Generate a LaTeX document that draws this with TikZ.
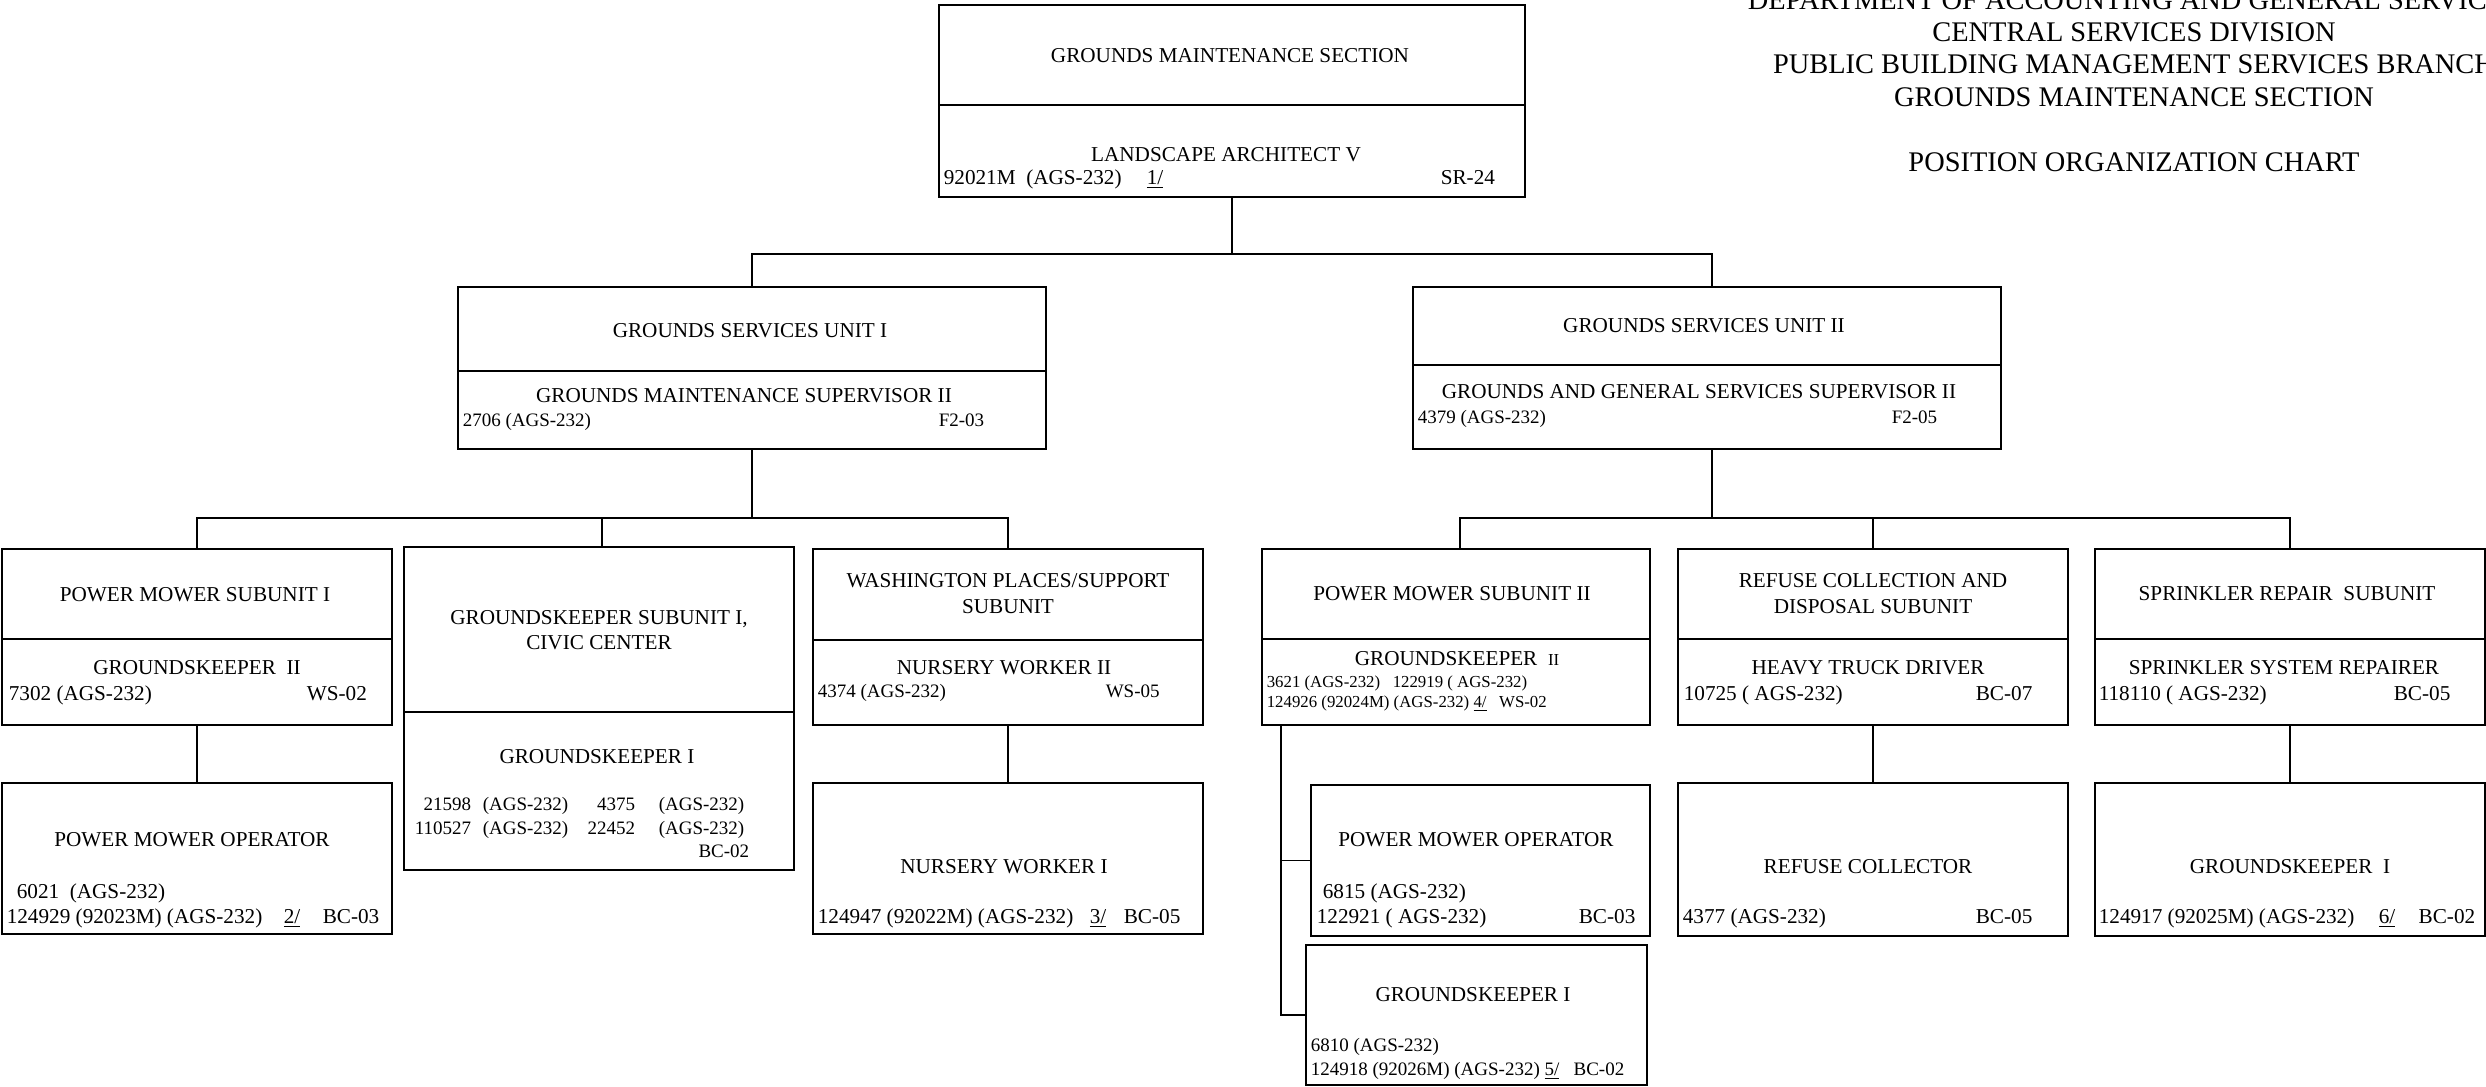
\documentclass[tikz,border=0pt]{standalone}
\usepackage{fontspec}
\setmainfont{Liberation Serif}
\usetikzlibrary{fit}
\newcommand{\szmain}{\fontsize{10.6}{12}\selectfont}
\newcommand{\szmed}{\fontsize{9.5}{11}\selectfont}
\newcommand{\szsm}{\fontsize{8.4}{10}\selectfont}
\newcommand{\sztitle}{\fontsize{14.2}{16}\selectfont}
\begin{document}
\begin{tikzpicture}[x=0.5pt, y=-0.5pt, line width=0.8pt,
  orgbox/.style={draw, inner sep=0pt, line width=0.8pt},
  txt/.style={inner sep=0pt, font=\szmain, text height=7pt, text depth=0pt},
  txtm/.style={inner sep=0pt, font=\szmed, text height=6.3pt, text depth=0pt},
  txts/.style={inner sep=0pt, font=\szsm, text height=5.6pt, text depth=0pt},
  ttl/.style={inner sep=0pt, font=\sztitle, text height=9.4pt, text depth=0pt}]
\useasboundingbox (0,0) rectangle (2486,1087);

% title block
\node[ttl] (h1) at (2134,0) {DEPARTMENT OF ACCOUNTING AND GENERAL SERVICES};
\node[ttl] (h2) at (2134,32) {CENTRAL SERVICES DIVISION};
\node[ttl] (h3) at (2134,64) {PUBLIC BUILDING MANAGEMENT SERVICES BRANCH};
\node[ttl] (h4) at (2134,97) {GROUNDS MAINTENANCE SECTION};
\node[ttl] (h5) at (2134,162) {POSITION ORGANIZATION CHART};

% top box
\node[orgbox, fit={(939,5) (1525,197)}] (T) {};
\draw (T.west |- 0,105) -- (T.east |- 0,105);
\node[txt] (t1) at (1230,55) {GROUNDS MAINTENANCE SECTION};
\node[txt] (t2) at (1226,154) {LANDSCAPE ARCHITECT V};
\node[txt, anchor=west] (t3) at (943,177) {92021M\ \ (AGS-232)};
\node[txt, anchor=west] (t4) at (1146,177) {\underline{1/}};
\node[txt, anchor=west] (t5) at (1440,177) {SR-24};

% unit I
\node[orgbox, fit={(458,287) (1046,449)}] (U1) {};
\draw (U1.west |- 0,371) -- (U1.east |- 0,371);
\node[txt] (u11) at (750,330) {GROUNDS SERVICES UNIT I};
\node[txt] (u12) at (744,395) {GROUNDS MAINTENANCE SUPERVISOR II};
\node[txtm, anchor=west] (u13) at (462,420) {2706 (AGS-232)};
\node[txtm, anchor=west] (u14) at (938,420) {F2-03};

% unit II
\node[orgbox, fit={(1413,287) (2001,449)}] (U2) {};
\draw (U2.west |- 0,365) -- (U2.east |- 0,365);
\node[txt] (u21) at (1704,325) {GROUNDS SERVICES UNIT II};
\node[txt] (u22) at (1699,391) {GROUNDS AND GENERAL SERVICES SUPERVISOR II};
\node[txtm, anchor=west] (u23) at (1417,417) {4379 (AGS-232)};
\node[txtm, anchor=west] (u24) at (1891,417) {F2-05};

% A power mower subunit I
\node[orgbox, fit={(2,549) (392,725)}] (A) {};
\draw (A.west |- 0,639) -- (A.east |- 0,639);
\node[txt] (a1) at (195,594) {POWER MOWER SUBUNIT I};
\node[txt] (a2) at (197,667) {GROUNDSKEEPER\ \ II};
\node[txt, anchor=west] (a3) at (8,693) {7302 (AGS-232)};
\node[txt, anchor=west] (a4) at (306,693) {WS-02};

% B groundskeeper subunit I
\node[orgbox, fit={(404,547) (794,870)}] (B) {};
\draw (B.west |- 0,712) -- (B.east |- 0,712);
\node[txt] (b1) at (599,617) {GROUNDSKEEPER SUBUNIT I,};
\node[txt] (b2) at (599,642) {CIVIC CENTER};
\node[txt] (b3) at (597,756) {GROUNDSKEEPER I};
\node[txtm, anchor=east] (b4) at (472,804) {21598};
\node[txtm, anchor=west] (b5) at (482,804) {(AGS-232)};
\node[txtm, anchor=east] (b6) at (636,804) {4375};
\node[txtm, anchor=west] (b7) at (658,804) {(AGS-232)};
\node[txtm, anchor=east] (b8) at (472,828) {110527};
\node[txtm, anchor=west] (b9) at (482,828) {(AGS-232)};
\node[txtm, anchor=east] (b10) at (636,828) {22452};
\node[txtm, anchor=west] (b11) at (658,828) {(AGS-232)};
\node[txtm, anchor=east] (b12) at (750,851) {BC-02};

% C washington places
\node[orgbox, fit={(813,549) (1203,725)}] (C) {};
\draw (C.west |- 0,640) -- (C.east |- 0,640);
\node[txt] (c1) at (1008,580) {WASHINGTON PLACES/SUPPORT};
\node[txt] (c2) at (1008,606) {SUBUNIT};
\node[txt] (c3) at (1004,667) {NURSERY WORKER II};
\node[txtm, anchor=west] (c4) at (817,691) {4374 (AGS-232)};
\node[txtm, anchor=west] (c5) at (1105,691) {WS-05};

% D power mower operator
\node[orgbox, fit={(2,783) (392,934)}] (D) {};
\node[txt] (d1) at (192,839) {POWER MOWER OPERATOR};
\node[txt, anchor=west] (d2) at (16,891) {6021\ \ (AGS-232)};
\node[txt, anchor=west] (d3) at (6,916) {124929 (92023M) (AGS-232)};
\node[txt, anchor=west] (d4) at (283,916) {\underline{2/}};
\node[txt, anchor=west] (d5) at (322,916) {BC-03};

% E nursery worker I
\node[orgbox, fit={(813,783) (1203,934)}] (E) {};
\node[txt] (e1) at (1004,866) {NURSERY WORKER I};
\node[txt, anchor=west] (e2) at (817,916) {124947 (92022M) (AGS-232)};
\node[txt, anchor=west] (e3) at (1089,916) {\underline{3/}};
\node[txt, anchor=west] (e4) at (1123,916) {BC-05};

% F power mower subunit II
\node[orgbox, fit={(1262,549) (1650,725)}] (F) {};
\draw (F.west |- 0,639) -- (F.east |- 0,639);
\node[txt] (f1t) at (1452,593) {POWER MOWER SUBUNIT II};
\node[txt] (f2t) at (1457,658) {GROUNDSKEEPER\ \ {\szsm II}};
\node[txts, anchor=west] (f3t) at (1266,682) {3621 (AGS-232)\ \ \ 122919 ( AGS-232)};
\node[txts, anchor=west] (f4t) at (1266,702) {124926 (92024M) (AGS-232) \underline{4/}\ \ \ WS-02};

% G refuse collection
\node[orgbox, fit={(1678,549) (2068,725)}] (G) {};
\draw (G.west |- 0,639) -- (G.east |- 0,639);
\node[txt] (g1) at (1873,580) {REFUSE COLLECTION AND};
\node[txt] (g2) at (1873,606) {DISPOSAL SUBUNIT};
\node[txt] (g3) at (1868,667) {HEAVY TRUCK DRIVER};
\node[txt, anchor=west] (g4) at (1683,693) {10725 ( AGS-232)};
\node[txt, anchor=west] (g5) at (1975,693) {BC-07};

% H sprinkler repair
\node[orgbox, fit={(2095,549) (2485,725)}] (H) {};
\draw (H.west |- 0,639) -- (H.east |- 0,639);
\node[txt] (hh1) at (2287,593) {SPRINKLER REPAIR\ \ SUBUNIT};
\node[txt] (hh2) at (2284,667) {SPRINKLER SYSTEM REPAIRER};
\node[txt, anchor=west] (hh3) at (2098,693) {118110 ( AGS-232)};
\node[txt, anchor=west] (hh4) at (2393,693) {BC-05};

% I power mower operator
\node[orgbox, fit={(1311,785) (1650,936)}] (I) {};
\node[txt] (i1) at (1476,839) {POWER MOWER OPERATOR};
\node[txt, anchor=west] (i2) at (1322,891) {6815 (AGS-232)};
\node[txt, anchor=west] (i3) at (1316,916) {122921 ( AGS-232)};
\node[txt, anchor=west] (i4) at (1578,916) {BC-03};

% J groundskeeper I
\node[orgbox, fit={(1306,945) (1647,1085)}] (J) {};
\node[txt] (j1t) at (1473,994) {GROUNDSKEEPER I};
\node[txtm, anchor=west] (j2t) at (1310,1045) {6810 (AGS-232)};
\node[txtm, anchor=west] (j3t) at (1310,1069) {124918 (92026M) (AGS-232) \underline{5/}\ \ \ BC-02};

% K refuse collector
\node[orgbox, fit={(1678,783) (2068,936)}] (K) {};
\node[txt] (k1) at (1868,866) {REFUSE COLLECTOR};
\node[txt, anchor=west] (k2) at (1682,916) {4377 (AGS-232)};
\node[txt, anchor=west] (k3) at (1975,916) {BC-05};

% L groundskeeper I
\node[orgbox, fit={(2095,783) (2485,936)}] (L) {};
\node[txt] (l1) at (2290,866) {GROUNDSKEEPER\ \ I};
\node[txt, anchor=west] (l2) at (2098,916) {124917 (92025M) (AGS-232)};
\node[txt, anchor=west] (l3) at (2378,916) {\underline{6/}};
\node[txt, anchor=east] (l4) at (2476,916) {BC-02};

% connector attachment points on box borders
\coordinate (u2n) at (1712,287);
\coordinate (u2s) at (1712,449);
\coordinate (bn) at (602,547);
\coordinate (fn) at (1460,549);
\coordinate (fb) at (1281,725);

% connectors
\coordinate (j1) at (1232,254);
\draw (T.south) -- (j1);
\draw (U1.north) |- (j1) -| (u2n);
\coordinate (j2) at (752,518);
\draw (U1.south) -- (j2);
\draw (A.north) |- (j2) -| (C.north);
\draw (bn) -- (bn |- j2);
\draw (A.south) -- (D.north);
\draw (C.south) -- (E.north);
\coordinate (j3) at (1712,518);
\draw (u2s) -- (j3);
\draw (fn) |- (j3) -| (H.north);
\draw (G.north) -- (G.north |- j3);
\draw (G.south) -- (K.north);
\draw (H.south) -- (L.north);
\draw (fb) |- (I.west);
\draw (fb) |- (J.west);
\end{tikzpicture}
\end{document}
